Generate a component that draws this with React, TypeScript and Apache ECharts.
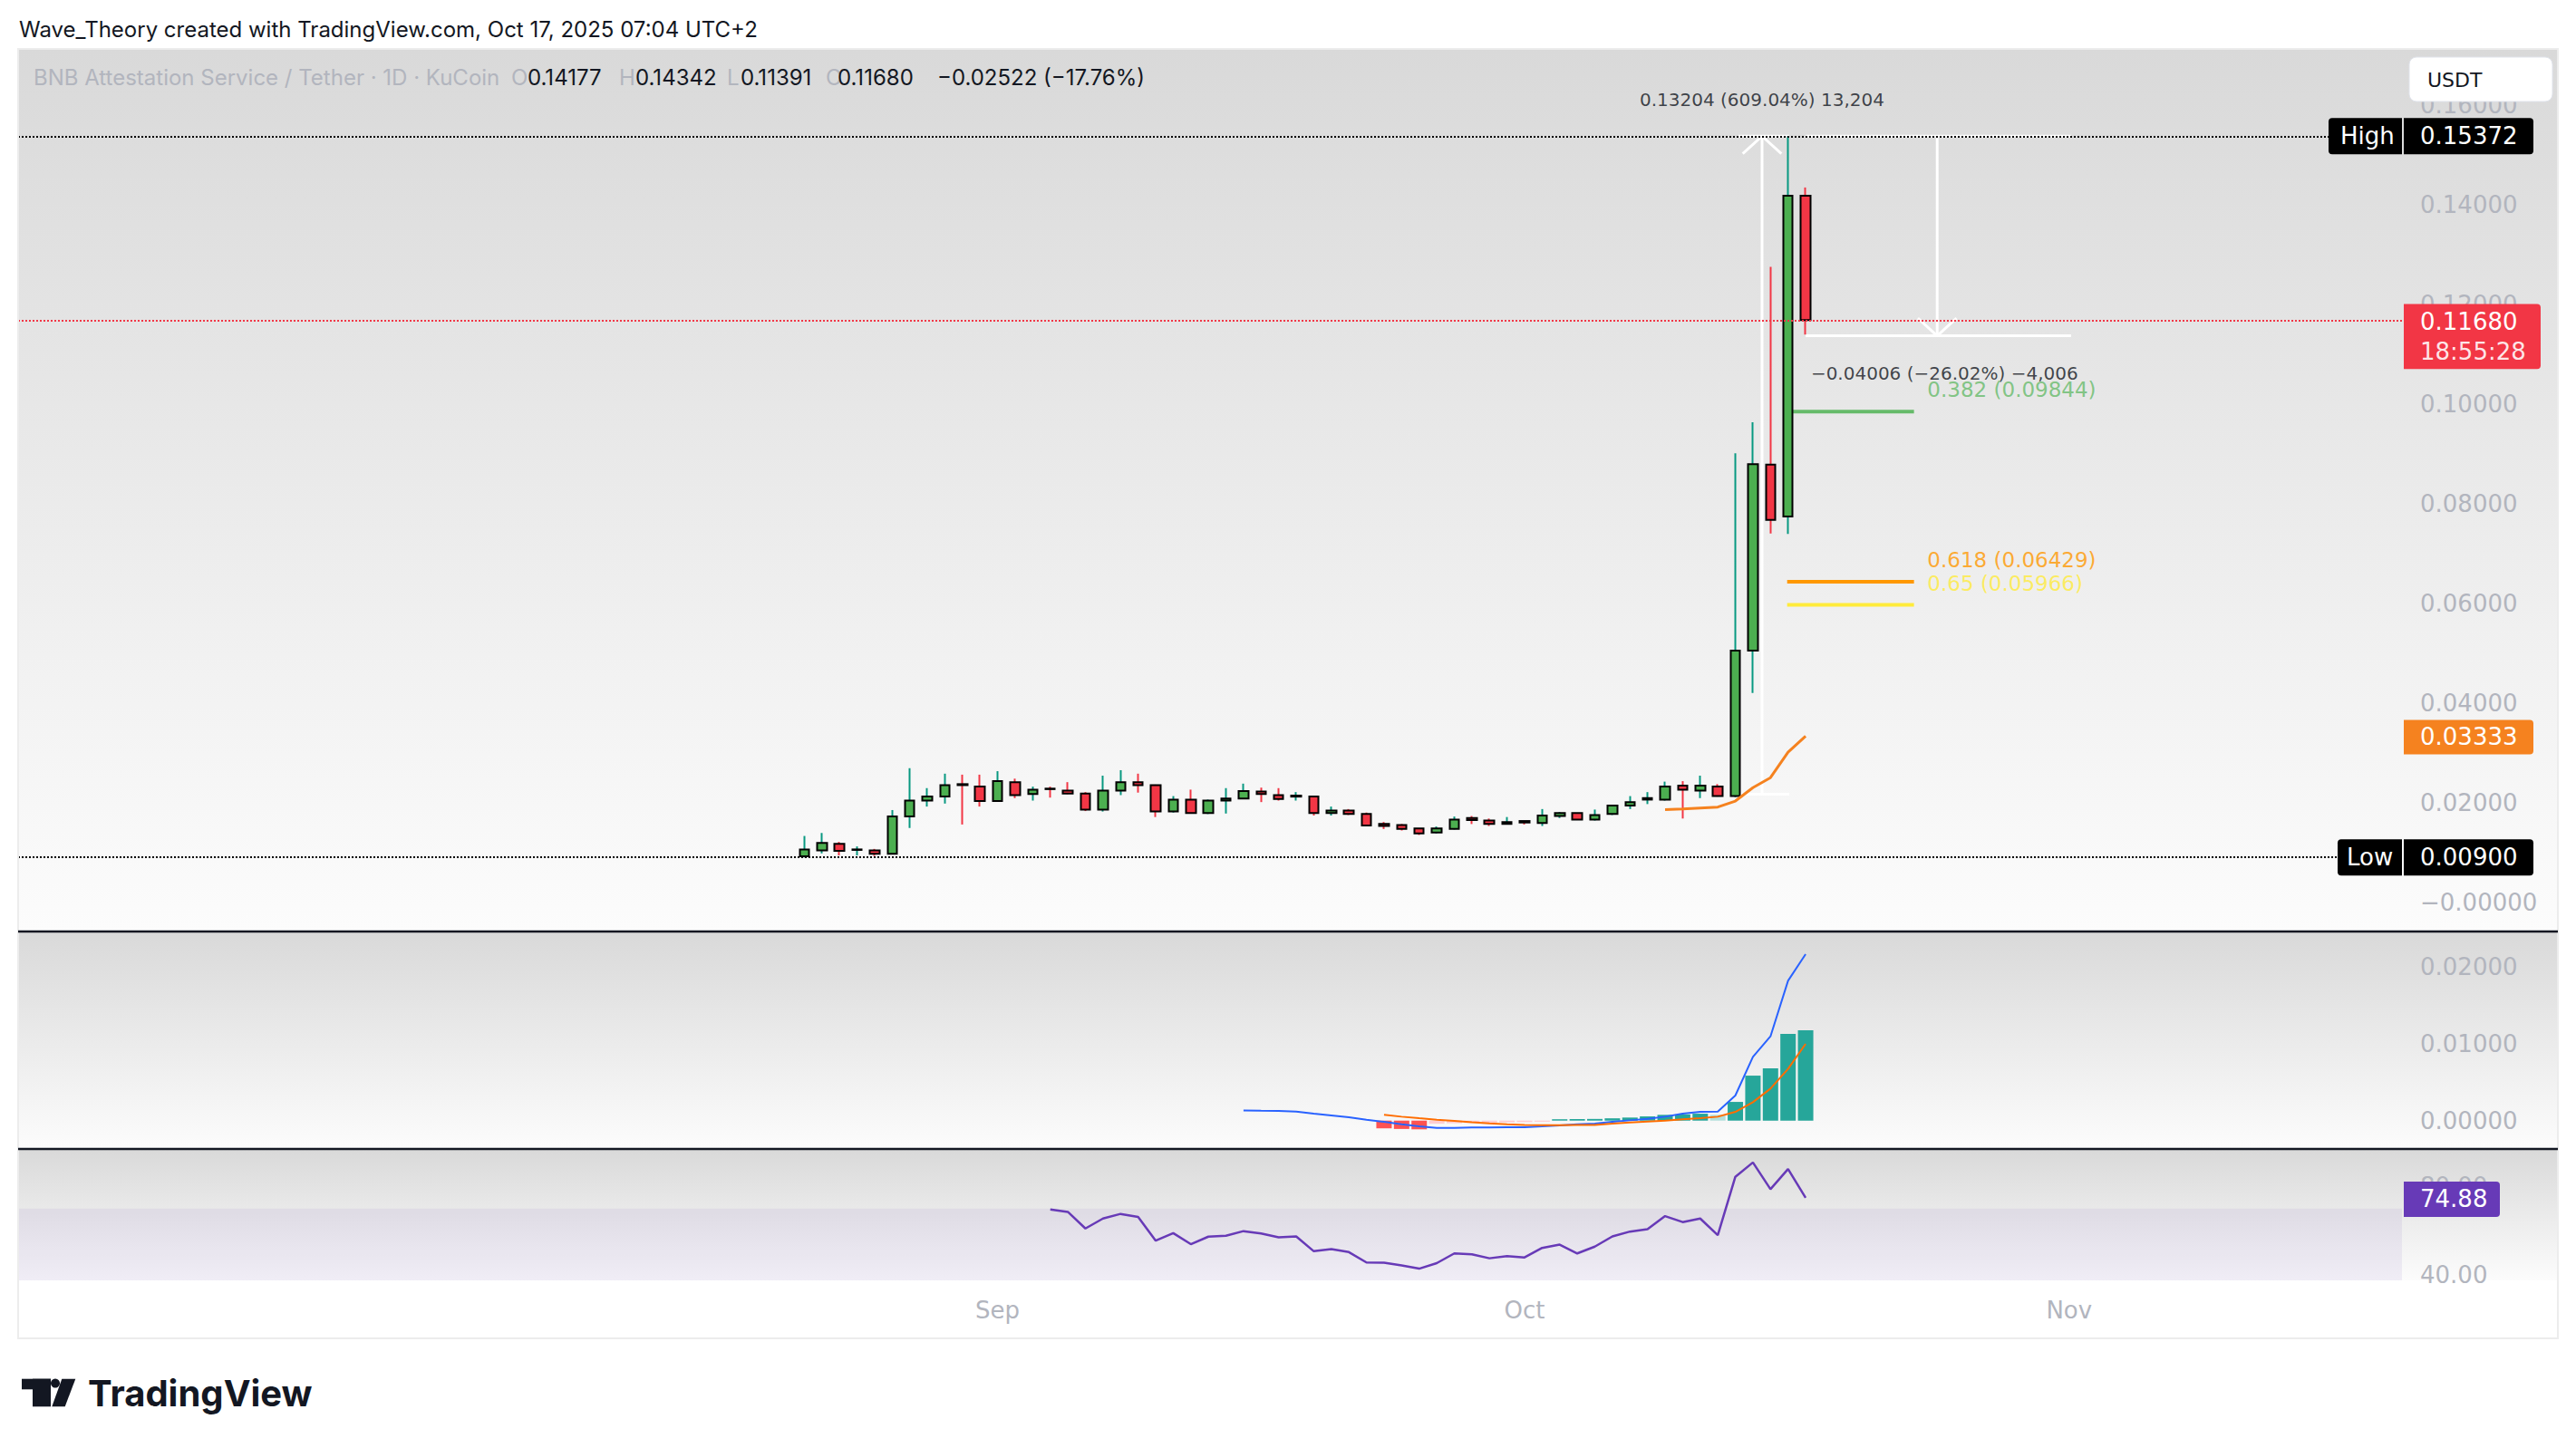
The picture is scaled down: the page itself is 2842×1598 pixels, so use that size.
import { useEffect, useRef } from 'react';
import * as echarts from 'echarts';

const W = 2842;
const H = 1598;

// ---------------- DATA ----------------
const candleStartDate = '2025-08-21';
const openPrices = [
  0.0092, 0.0104, 0.0117, 0.0105, 0.0104, 0.0097, 0.0172, 0.0204, 0.0212, 0.0237,
  0.0232, 0.0203, 0.0241, 0.0217, 0.0228, 0.0224, 0.0218, 0.0186, 0.0224, 0.0241,
  0.0235, 0.0182, 0.0206, 0.0179, 0.0204, 0.0208, 0.0222, 0.0215, 0.0212, 0.0212,
  0.0179, 0.0184, 0.0177, 0.0157, 0.0155, 0.0148, 0.0140, 0.0147, 0.0169, 0.0164,
  0.0157, 0.0163, 0.0159, 0.0173, 0.0179, 0.0166, 0.0177, 0.0194, 0.0206, 0.0206,
  0.0234, 0.0224, 0.0232, 0.0213, 0.0505, 0.0878, 0.0774, 0.14177,
];
const highPrices = [
  0.0133, 0.0139, 0.0121, 0.0112, 0.0107, 0.0185, 0.0269, 0.0229, 0.0258, 0.0256,
  0.0256, 0.0263, 0.0248, 0.0232, 0.0232, 0.0241, 0.0221, 0.0254, 0.0265, 0.0258,
  0.0236, 0.0213, 0.0226, 0.0206, 0.0229, 0.0238, 0.0230, 0.0229, 0.0221, 0.0214,
  0.0192, 0.0187, 0.0180, 0.0161, 0.0157, 0.0148, 0.0152, 0.0172, 0.0173, 0.0168,
  0.0171, 0.0163, 0.0187, 0.0181, 0.0179, 0.0186, 0.0194, 0.0213, 0.0221, 0.0242,
  0.0243, 0.0254, 0.0237, 0.0901, 0.0963, 0.1275, 0.15372, 0.14342,
];
const lowPrices = [
  0.0090, 0.0098, 0.0094, 0.0094, 0.0093, 0.0096, 0.0149, 0.0192, 0.0198, 0.0156,
  0.0192, 0.0202, 0.0209, 0.0204, 0.0210, 0.0217, 0.0183, 0.0182, 0.0215, 0.0220,
  0.0171, 0.0180, 0.0179, 0.0177, 0.0178, 0.0207, 0.0201, 0.0204, 0.0204, 0.0174,
  0.0174, 0.0175, 0.0153, 0.0147, 0.0144, 0.0135, 0.0138, 0.0146, 0.0157, 0.0153,
  0.0156, 0.0156, 0.0153, 0.0169, 0.0165, 0.0164, 0.0175, 0.0187, 0.0197, 0.0204,
  0.0168, 0.0209, 0.0212, 0.0211, 0.0420, 0.0740, 0.0739, 0.11391,
];
const closePrices = [
  0.0106, 0.0119, 0.0103, 0.0106, 0.0097, 0.0172, 0.0204, 0.0212, 0.0235, 0.0235,
  0.0203, 0.0243, 0.0215, 0.0226, 0.0227, 0.0218, 0.0186, 0.0224, 0.0241, 0.0235,
  0.0182, 0.0206, 0.0179, 0.0204, 0.0208, 0.0223, 0.0217, 0.0207, 0.0214, 0.0179,
  0.0184, 0.0177, 0.0154, 0.0153, 0.0147, 0.0138, 0.0148, 0.0166, 0.0165, 0.0157,
  0.0161, 0.0160, 0.0174, 0.0179, 0.0166, 0.0175, 0.0194, 0.0201, 0.0209, 0.0232,
  0.0226, 0.0234, 0.0213, 0.0505, 0.0879, 0.0767, 0.14177, 0.11680,
];

const emaStartDate = '2025-10-09';
const emaValues = [0.0186, 0.0187, 0.0189, 0.0191, 0.0203, 0.0230, 0.0250, 0.0301, 0.03333];

const macdStartDate = '2025-09-15';
const macdValues = [
  0.00133, 0.00129, 0.00126, 0.00118, 0.0009, 0.00067, 0.00043, 0.00012, -0.00016, -0.00047,
  -0.00075, -0.00094, -0.00094, -0.0009, -0.0009, -0.00086, -0.00086, -0.00075, -0.00063, -0.00047,
  -0.00039, -0.00016, 0.00004, 0.00024, 0.00051, 0.0009, 0.00114, 0.00118, 0.00326, 0.00827,
  0.01094, 0.01816, 0.02161,
];
const signalStartDate = '2025-09-23';
const signalValues = [
  0.00075, 0.00051, 0.00031, 0.00012, -0.00004, -0.0002, -0.00035, -0.00047, -0.00055, -0.00059,
  -0.00059, -0.00055, -0.00055, -0.00039, -0.00024, -0.00012, 0, 0.00016, 0.00031, 0.00051,
  0.00114, 0.00239, 0.00416, 0.00671, 0.00996,
];
const histStartDate = '2025-09-23';
const histValues = [
  -0.001, -0.00108, -0.00113, -0.0004, -0.00034, -0.0003, -0.00026, -0.00022, -0.00018, -0.00014,
  0.00018, 0.0002, 0.00022, 0.0003, 0.0004, 0.00055, 0.00075, 0.0008, 0.0009, 0.00075,
  0.00243, 0.00584, 0.00678, 0.01125, 0.01173,
];

const rsiStartDate = '2025-09-04';
const rsiValues = [
  69.6, 68.5, 61.0, 65.5, 67.6, 66.2, 55.5, 58.9, 53.9, 57.3,
  57.7, 59.8, 58.7, 57.0, 57.4, 50.7, 51.7, 50.3, 45.6, 45.5,
  44.3, 42.8, 45.3, 49.7, 49.3, 47.5, 48.5, 47.9, 52.2, 53.7,
  49.7, 52.8, 57.4, 59.6, 60.7, 66.6, 63.9, 65.5, 58.0, 84.4,
  90.9, 78.8, 87.9, 74.88,
];
const rsiBandLevels = [30, 70];

const priceTicks = [0, 0.02, 0.04, 0.06, 0.08, 0.1, 0.12, 0.14, 0.16];
const macdTicks = [0, 0.01, 0.02];
const rsiTicks = [40, 80];
const monthTickDates = ['2025-09-01', '2025-10-01', '2025-11-01'];
const monthTickLabels = ['Sep', 'Oct', 'Nov'];

const fibRatios = ['0.382', '0.618', '0.65'];
const fibPrices = [0.09844, 0.06429, 0.05966];

const riseFrom = 0.02168;
const riseTo = 0.15372;
const riseText = '0.13204 (609.04%) 13,204';
const dropFrom = 0.15372;
const dropTo = 0.11366;
const dropText = '\u22120.04006 (\u221226.02%) \u22124,006';

const highPrice = 0.15372;
const lowPrice = 0.009;
const lastPrice = 0.1168;
const countdownText = '18:55:28';
const emaLast = 0.03333;
const rsiLast = 74.88;

const headerText = 'Wave_Theory created with TradingView.com, Oct 17, 2025 07:04 UTC+2';
const symbolText = 'BNB Attestation Service / Tether \u00b7 1D \u00b7 KuCoin';
const ohlcLetters = ['O', 'H', 'L', 'C'];
const ohlcValues = ['0.14177', '0.14342', '0.11391', '0.11680'];
const changeText = '\u22120.02522 (\u221217.76%)';
const currencyText = 'USDT';

// ---------------- LAYOUT / STYLE ----------------
const PANEL_L = 20;
const PANEL_R = 2822;
const PLOT_R = 2650;
const MAIN_T = 54;
const MAIN_B = 1028;
const MACD_B = 1268;
const RSI_B = 1413;
const PANEL_B = 1477;
const X_MIN = -85.76;
const X_MAX = 49.95;
const PRICE_MIN = -0.00587;
const PRICE_MAX = 0.17122;
const MACD_MIN = -0.00368;
const MACD_MAX = 0.02455;
const RSI_MIN = 37.5;
const RSI_MAX = 97.0;

const AXIS_FONT = 'DejaVu Sans';
const UI_FONT = 'Inter';
const AXIS_COLOR = '#b2b5be';
const INK = '#131722';
const UP_FILL = '#4caf50';
const DOWN_FILL = '#f23645';
const UP_WICK = '#089981';
const DOWN_WICK = '#f23645';
const EMA_COLOR = '#f5821f';
const FIB_COLORS = ['#66bb6a', '#ff9800', '#ffeb3b'];
const RSI_COLOR = '#673ab7';
const DOTS = [2, 2];

// annotation x positions (in days from Oct 1)
const RISE_X = 13.52, RISE_X0 = 12.18, RISE_X1 = 15.07;
const DROP_X = 23.49, DROP_X0 = 16.0, DROP_X1 = 31.11, DROP_LABEL_X = 16.3;
const FIB_X0 = 14.95, FIB_X1 = 22.17, FIB_LABEL_X = 22.93;
const ARROW_DX = 1.1, ARROW_DY = 0.00353;

const REF = Date.UTC(2025, 9, 1);
const dayOf = (s: string) => Math.round((Date.parse(s + 'T00:00:00Z') - REF) / 86400000);
const daysFrom = (start: string, n: number) => Array.from({ length: n }, (_, i) => dayOf(start) + i);

const paneGradient = () =>
  new echarts.graphic.LinearGradient(0, 0, 0, 1, [
    { offset: 0, color: '#d9d9d9' },
    { offset: 1, color: '#fcfcfc' },
  ]);

function buildOption(): any {
  const cx = daysFrom(candleStartDate, openPrices.length);
  const wickData = cx.map((x, i) => [x, openPrices[i], closePrices[i], lowPrices[i], highPrices[i]]);
  const bodyData = cx.map((x, i) => [
    x,
    openPrices[i],
    closePrices[i],
    Math.min(openPrices[i], closePrices[i]),
    Math.max(openPrices[i], closePrices[i]),
  ]);
  const emaX = daysFrom(emaStartDate, emaValues.length);
  const macdX = daysFrom(macdStartDate, macdValues.length);
  const sigX = daysFrom(signalStartDate, signalValues.length);
  const histX = daysFrom(histStartDate, histValues.length);
  const rsiX = daysFrom(rsiStartDate, rsiValues.length);
  const monthDays = monthTickDates.map(dayOf);

  const histColors = histValues.map((v, i) => {
    const prev = i > 0 ? histValues[i - 1] : v;
    if (v >= 0) return v >= prev ? '#26a69a' : '#b2dfdb';
    return v <= prev ? '#ff5252' : '#ffcdd2';
  });

  const plotW = PLOT_R - PANEL_L;
  const grids = [
    { left: PANEL_L, top: MAIN_T, width: plotW, height: MAIN_B - MAIN_T },
    { left: PANEL_L, top: MAIN_B, width: plotW, height: MACD_B - MAIN_B },
    { left: PANEL_L, top: MACD_B, width: plotW, height: RSI_B - MACD_B },
  ].map((g) => ({ ...g, show: false, containLabel: false }));

  const xAxes = [0, 1, 2].map((i) => ({
    type: 'value',
    gridIndex: i,
    min: X_MIN,
    max: X_MAX,
    axisLine: { show: false },
    axisTick: { show: false },
    splitLine: { show: false },
    axisLabel:
      i === 2
        ? {
            show: true,
            customValues: monthDays,
            formatter: (v: number) => {
              const k = monthDays.indexOf(Math.round(v));
              return k >= 0 ? monthTickLabels[k] : '';
            },
            color: AXIS_COLOR,
            fontSize: 26,
            fontFamily: AXIS_FONT,
            margin: 20,
          }
        : { show: false },
  }));

  const yLabel = (ticks: number[], fmt: (v: number) => string) => ({
    show: true,
    customValues: ticks,
    formatter: fmt,
    color: AXIS_COLOR,
    fontSize: 26,
    fontFamily: AXIS_FONT,
    margin: 20,
    align: 'left',
  });
  const yBase = {
    type: 'value',
    position: 'right',
    axisLine: { show: false },
    axisTick: { show: false },
    splitLine: { show: false },
  };
  const yAxes = [
    {
      ...yBase,
      gridIndex: 0,
      min: PRICE_MIN,
      max: PRICE_MAX,
      axisLabel: yLabel(priceTicks, (v) => (Math.abs(v) < 1e-12 ? '\u22120.00000' : v.toFixed(5))),
    },
    {
      ...yBase,
      gridIndex: 1,
      min: MACD_MIN,
      max: MACD_MAX,
      axisLabel: yLabel(macdTicks, (v) => (Math.abs(v) < 1e-12 ? '0.00000' : v.toFixed(5))),
    },
    {
      ...yBase,
      gridIndex: 2,
      min: RSI_MIN,
      max: RSI_MAX,
      axisLabel: yLabel(rsiTicks, (v) => v.toFixed(2)),
    },
  ];

  const seg = (pts: number[][], color: string, width: number, z: number) => ({
    type: 'line',
    xAxisIndex: 0,
    yAxisIndex: 0,
    data: pts,
    symbol: 'none',
    silent: true,
    lineStyle: { color, width, cap: 'butt' },
    z,
  });

  const whiteSegs = [
    [[RISE_X0, riseFrom], [RISE_X1, riseFrom]],
    [[RISE_X0, riseTo], [RISE_X1, riseTo]],
    [[RISE_X, riseFrom], [RISE_X, riseTo]],
    [[RISE_X - ARROW_DX, riseTo - ARROW_DY], [RISE_X, riseTo], [RISE_X + ARROW_DX, riseTo - ARROW_DY]],
    [[DROP_X0, dropFrom], [DROP_X1, dropFrom]],
    [[DROP_X0, dropTo], [DROP_X1, dropTo]],
    [[DROP_X, dropFrom], [DROP_X, dropTo]],
    [[DROP_X - ARROW_DX, dropTo + ARROW_DY], [DROP_X, dropTo], [DROP_X + ARROW_DX, dropTo + ARROW_DY]],
  ];

  const labelItem = (x: number, y: number, text: string, color: string, size: number, align: string, dy: number) => ({
    value: [x, y],
    label: {
      show: true,
      position: 'inside',
      formatter: text,
      color,
      fontSize: size,
      fontFamily: AXIS_FONT,
      align,
      verticalAlign: 'middle',
      offset: [0, dy],
    },
  });

  const series: any[] = [
    ...fibPrices.map((p, i) => seg([[FIB_X0, p], [FIB_X1, p]], FIB_COLORS[i], 4, 1)),
    ...whiteSegs.map((s) => seg(s, '#ffffff', 3, 1)),
    {
      type: 'scatter',
      xAxisIndex: 0,
      yAxisIndex: 0,
      symbolSize: 1,
      silent: true,
      itemStyle: { color: 'rgba(0,0,0,0)' },
      z: 6,
      data: [
        labelItem(RISE_X, riseTo, riseText, INK, 20, 'center', -40),
        labelItem(DROP_LABEL_X, dropTo, dropText, INK, 20, 'left', 41),
        ...fibPrices.map((p, i) =>
          labelItem(FIB_LABEL_X, p, `${fibRatios[i]} (${p.toFixed(5)})`, FIB_COLORS[i], 23, 'left', -24)
        ),
      ],
    },
    {
      type: 'candlestick',
      name: 'wicks',
      xAxisIndex: 0,
      yAxisIndex: 0,
      data: wickData,
      encode: { x: 0, y: [1, 2, 3, 4] },
      barWidth: 1,
      silent: true,
      z: 2,
      itemStyle: {
        color: UP_WICK,
        color0: DOWN_WICK,
        borderColor: UP_WICK,
        borderColor0: DOWN_WICK,
        borderWidth: 2,
      },
    },
    {
      type: 'candlestick',
      name: 'bodies',
      xAxisIndex: 0,
      yAxisIndex: 0,
      data: bodyData,
      encode: { x: 0, y: [1, 2, 3, 4] },
      barWidth: 11,
      silent: true,
      z: 3,
      itemStyle: {
        color: UP_FILL,
        color0: DOWN_FILL,
        borderColor: '#000000',
        borderColor0: '#000000',
        borderWidth: 2,
      },
    },
    {
      type: 'line',
      name: 'ema',
      xAxisIndex: 0,
      yAxisIndex: 0,
      data: emaX.map((x, i) => [x, emaValues[i]]),
      symbol: 'none',
      silent: true,
      z: 5,
      lineStyle: { color: EMA_COLOR, width: 3 },
      markLine: {
        silent: true,
        precision: 6,
        symbol: ['none', 'none'],
        label: { show: false },
        data: [
          { yAxis: highPrice, lineStyle: { color: '#000000', type: DOTS, width: 2 } },
          { yAxis: lowPrice, lineStyle: { color: '#000000', type: DOTS, width: 2 } },
          { yAxis: lastPrice, lineStyle: { color: '#f23645', type: DOTS, width: 2 } },
        ],
      },
    },
    {
      type: 'bar',
      name: 'hist',
      xAxisIndex: 1,
      yAxisIndex: 1,
      barWidth: 17,
      silent: true,
      z: 2,
      data: histX.map((x, i) => ({ value: [x, histValues[i]], itemStyle: { color: histColors[i] } })),
    },
    {
      type: 'line',
      name: 'macd',
      xAxisIndex: 1,
      yAxisIndex: 1,
      data: macdX.map((x, i) => [x, macdValues[i]]),
      symbol: 'none',
      silent: true,
      z: 4,
      lineStyle: { color: '#2962ff', width: 2 },
    },
    {
      type: 'line',
      name: 'signal',
      xAxisIndex: 1,
      yAxisIndex: 1,
      data: sigX.map((x, i) => [x, signalValues[i]]),
      symbol: 'none',
      silent: true,
      z: 4,
      lineStyle: { color: '#ff6d00', width: 2 },
    },
    {
      type: 'line',
      name: 'rsi',
      xAxisIndex: 2,
      yAxisIndex: 2,
      data: rsiX.map((x, i) => [x, rsiValues[i]]),
      symbol: 'none',
      silent: true,
      z: 4,
      lineStyle: { color: RSI_COLOR, width: 2.5 },
      markArea: {
        silent: true,
        precision: 6,
        itemStyle: { color: 'rgba(126,87,194,0.09)' },
        data: [[{ yAxis: rsiBandLevels[1] }, { yAxis: Math.max(rsiBandLevels[0], RSI_MIN) }]],
      },
    },
  ];

  return {
    animation: false,
    backgroundColor: '#ffffff',
    grid: grids,
    xAxis: xAxes,
    yAxis: yAxes,
    series,
  };
}

function buildGraphics(chart: any): any[] {
  const py = (v: number, idx: number) => chart.convertToPixel({ yAxisIndex: idx }, v) as number;
  const yHigh = py(highPrice, 0);
  const yLow = py(lowPrice, 0);
  const yLast = py(lastPrice, 0);
  const yEma = py(emaLast, 0);
  const yRsi = py(rsiLast, 2);

  const rect = (x: number, y: number, w: number, h: number, fill: any, r: any = 0, z = 100, extra: any = {}) => ({
    type: 'rect',
    silent: true,
    z,
    shape: { x, y, width: w, height: h, r },
    style: { fill, ...extra },
  });
  const text = (
    t: string,
    x: number,
    y: number,
    fill: string,
    size: number,
    family: string,
    weight: any = 'normal',
    align = 'left',
    z = 101
  ) => ({
    type: 'text',
    silent: true,
    z,
    style: { text: t, x, y, fill, fontSize: size, fontFamily: family, fontWeight: weight, align, verticalAlign: 'middle' },
  });
  const line = (x1: number, y1: number, x2: number, y2: number, stroke: string, w: number, z = 50) => ({
    type: 'line',
    silent: true,
    z,
    shape: { x1, y1, x2, y2 },
    style: { stroke, lineWidth: w },
  });

  const g: any[] = [];
  // pane backgrounds
  g.push(rect(PANEL_L, MAIN_T, PANEL_R - PANEL_L, MAIN_B - MAIN_T, paneGradient(), 0, -10));
  g.push(rect(PANEL_L, MAIN_B, PANEL_R - PANEL_L, MACD_B - MAIN_B, paneGradient(), 0, -10));
  g.push(rect(PANEL_L, MACD_B, PANEL_R - PANEL_L, RSI_B - MACD_B, paneGradient(), 0, -10));
  // panel border
  g.push(rect(PANEL_L, MAIN_T, PANEL_R - PANEL_L, PANEL_B - MAIN_T, 'none', 0, 40, { stroke: '#ececec', lineWidth: 2 }));
  // separators
  g.push(line(PANEL_L, MAIN_B, PANEL_R, MAIN_B, INK, 2.5));
  g.push(line(PANEL_L, MACD_B, PANEL_R, MACD_B, INK, 2.5));

  // header
  g.push(text(headerText, 21, 32, INK, 24, UI_FONT));
  g.push(text(symbolText, 37, 85, AXIS_COLOR, 24, UI_FONT));
  const letterX = [564, 683, 802, 911];
  const valueX = [582, 701, 817, 924];
  ohlcLetters.forEach((l, i) => {
    g.push(text(l, letterX[i], 85, AXIS_COLOR, 24, UI_FONT));
    g.push(text(ohlcValues[i], valueX[i], 85, INK, 24, UI_FONT));
  });
  g.push(text(changeText, 1034, 85, INK, 24, UI_FONT));

  // currency box
  g.push(rect(2658, 63, 158, 49, '#ffffff', 8, 100, { stroke: '#e0e3eb', lineWidth: 1 }));
  g.push(text(currencyText, 2678, 88, INK, 22, AXIS_FONT));

  // price labels
  g.push(rect(2569, yHigh - 20, 81, 40, '#000000', [4, 0, 0, 4]));
  g.push(text('High', 2582, yHigh, '#ffffff', 26, AXIS_FONT));
  g.push(rect(2652, yHigh - 20, 143, 40, '#000000', [0, 4, 4, 0]));
  g.push(text(highPrice.toFixed(5), 2670, yHigh, '#ffffff', 26, AXIS_FONT));

  g.push(rect(2652, yLast - 17.7, 151, 71.6, '#f23645', [0, 4, 4, 0]));
  g.push(text(lastPrice.toFixed(5), 2670, yLast + 1.7, '#ffffff', 26, AXIS_FONT));
  g.push(text(countdownText, 2670, yLast + 34.3, 'rgba(255,255,255,0.88)', 26, AXIS_FONT));

  g.push(rect(2652, yEma - 18, 143, 38, EMA_COLOR, [0, 4, 4, 0]));
  g.push(text(emaLast.toFixed(5), 2670, yEma + 1, '#ffffff', 26, AXIS_FONT));

  g.push(rect(2579, yLow - 20, 71, 40, '#000000', [4, 0, 0, 4]));
  g.push(text('Low', 2589, yLow, '#ffffff', 26, AXIS_FONT));
  g.push(rect(2652, yLow - 20, 143, 40, '#000000', [0, 4, 4, 0]));
  g.push(text(lowPrice.toFixed(5), 2670, yLow, '#ffffff', 26, AXIS_FONT));

  g.push(rect(2652, yRsi - 18, 106, 39, RSI_COLOR, [0, 4, 4, 0]));
  g.push(text(rsiLast.toFixed(2), 2670, yRsi + 1.5, '#ffffff', 26, AXIS_FONT));

  // TradingView logo
  g.push(rect(24, 1521.7, 32, 11.6, INK, 0, 100));
  g.push(rect(36, 1521.7, 20, 30.6, INK, 0, 100));
  g.push({ type: 'circle', silent: true, z: 100, shape: { cx: 61, cy: 1526.6, r: 5 }, style: { fill: INK } });
  g.push({
    type: 'polygon',
    silent: true,
    z: 100,
    shape: { points: [[68.3, 1521.7], [83.3, 1521.7], [71.7, 1552.3], [57.3, 1552.3]] },
    style: { fill: INK },
  });
  g.push(text('TradingView', 97, 1537, INK, 40, UI_FONT, 700));
  return g;
}

export default function App() {
  const ref = useRef<HTMLDivElement>(null);
  useEffect(() => {
    const el = ref.current;
    if (!el) return;
    const chart = echarts.init(el, null, { renderer: 'svg', width: W, height: H });
    chart.setOption(buildOption());
    chart.setOption({ graphic: { elements: buildGraphics(chart) } });
    return () => chart.dispose();
  }, []);
  return (
    <div
      ref={ref}
      style={{ position: 'fixed', left: 0, top: 0, width: W, height: H, background: '#ffffff' }}
    />
  );
}
